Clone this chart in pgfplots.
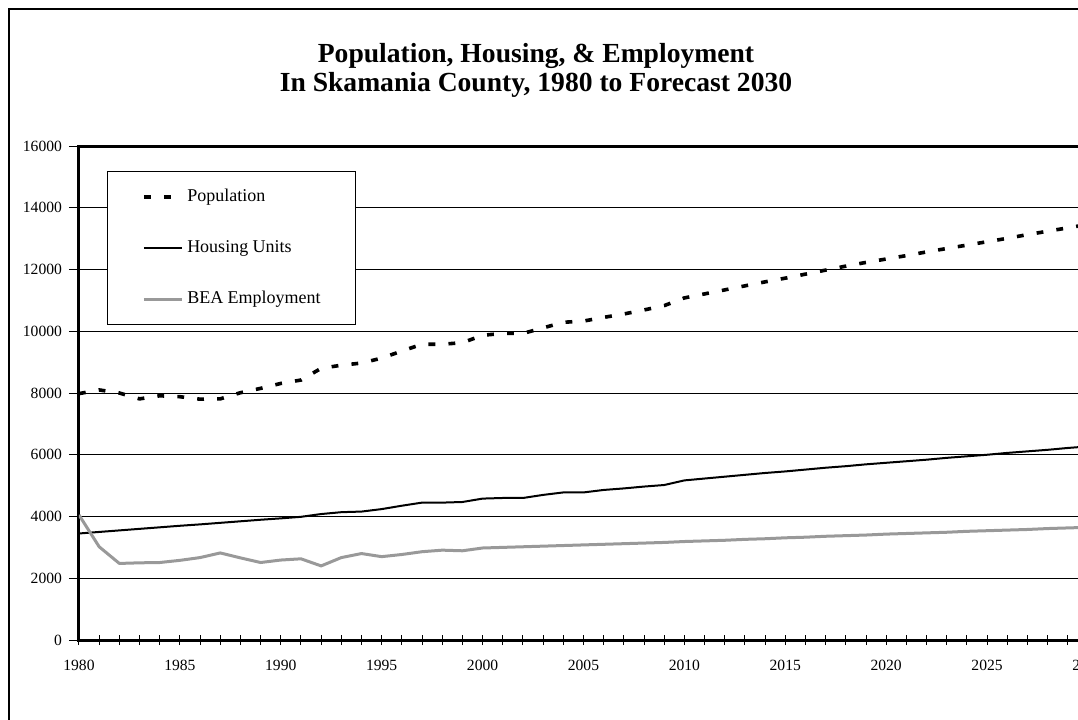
\documentclass[border=0pt]{standalone}
\usepackage{fontspec}
\setmainfont{Liberation Serif}
\usepackage{pgfplots}
\usepackage{pgfplotstable}
\pgfplotsset{compat=1.18}
\definecolor{beagray}{RGB}{153,153,153}

% year, population, housing units, BEA employment
\pgfplotstableread{
year pop hous bea
1980 7980 3450 4050
1981 8100 3500 3020
1982 8000 3550 2480
1983 7810 3600 2500
1984 7910 3650 2510
1985 7880 3700 2580
1986 7800 3745 2670
1987 7810 3795 2820
1988 8010 3845 2660
1989 8150 3895 2510
1990 8310 3940 2590
1991 8420 3990 2630
1992 8800 4080 2400
1993 8900 4140 2670
1994 8970 4160 2800
1995 9130 4240 2700
1996 9360 4350 2770
1997 9580 4450 2860
1998 9580 4450 2910
1999 9630 4470 2890
2000 9870 4580 2980
2001 9930 4600 3000
2002 9930 4600 3020
2003 10110 4700 3040
2004 10290 4780 3060
2005 10330 4780 3080
2006 10450 4860 3100
2007 10560 4910 3120
2008 10690 4970 3140
2009 10830 5020 3160
2010 11080 5170 3190
2011 11210 5230 3210
2012 11340 5290 3230
2013 11470 5350 3260
2014 11600 5410 3280
2015 11720 5460 3310
2016 11850 5520 3330
2017 11980 5580 3360
2018 12110 5630 3380
2019 12230 5690 3400
2020 12340 5740 3430
2021 12450 5790 3450
2022 12570 5840 3470
2023 12680 5900 3490
2024 12790 5950 3520
2025 12900 6000 3540
2026 13010 6060 3560
2027 13130 6110 3580
2028 13240 6160 3610
2029 13350 6220 3630
2030 13460 6270 3650
}\skamania

\begin{document}
\begin{tikzpicture}
\path[use as bounding box, clip] (0pt,-359.5pt) rectangle (539pt,0pt);
\draw[line width=0.9pt] (4.5pt,-4.5pt) rectangle (560pt,-380pt);
\node[font=\fontsize{13.8}{14.5}\selectfont\bfseries, align=center]
  at (268pt,-35pt) {Population, Housing, \& Employment\\In Skamania County, 1980 to Forecast 2030};

\begin{axis}[
  at={(39.5pt,-320pt)}, anchor=south west,
  scale only axis, width=504.5pt, height=247pt,
  xmin=1980, xmax=2030, ymin=0, ymax=16000,
  xtick={1980,1985,...,2030}, minor x tick num=4,
  ytick={0,2000,...,16000}, scaled y ticks=false,
  xtick pos=bottom, ytick pos=left,
  xtick align=center, ytick align=outside,
  major tick length=5pt, minor tick length=5pt,
  tick style={black, line width=0.5pt},
  axis line style={line width=1.5pt},
  ymajorgrids, major grid style={black, line width=0.5pt},
  ticklabel style={font=\fontsize{7.8}{9}\selectfont},
  xticklabel style={yshift=-4pt},
  /pgf/number format/assume math mode=true,
  /pgf/number format/1000 sep={},
  legend cell align=left,
  legend style={at={(0.0278,0.9494)}, anchor=north west, draw=black,
    line width=0.5pt, fill=white, inner xsep=17.2pt, inner ysep=0pt,
    row sep=0pt, column sep=1.65pt, font=\fontsize{9}{10}\selectfont,
    nodes={inner sep=0pt, minimum height=25.5pt}},
  legend image code/.code={\draw[#1] (0pt,0pt) -- (19.2pt,0pt);},
]
\addplot[black, line width=1.8pt, dash pattern=on 3.4pt off 6.6pt]
  table[x=year, y=pop] {\skamania};
\addlegendentry{\makebox[67pt][l]{Population}}
\addplot[black, line width=1pt, line join=round]
  table[x=year, y=hous] {\skamania};
\addlegendentry{\makebox[67pt][l]{Housing Units}}
\addplot[beagray, line width=1.5pt, line join=round]
  table[x=year, y=bea] {\skamania};
\addlegendentry{\makebox[67pt][l]{BEA Employment}}
\end{axis}
\end{tikzpicture}
\end{document}
